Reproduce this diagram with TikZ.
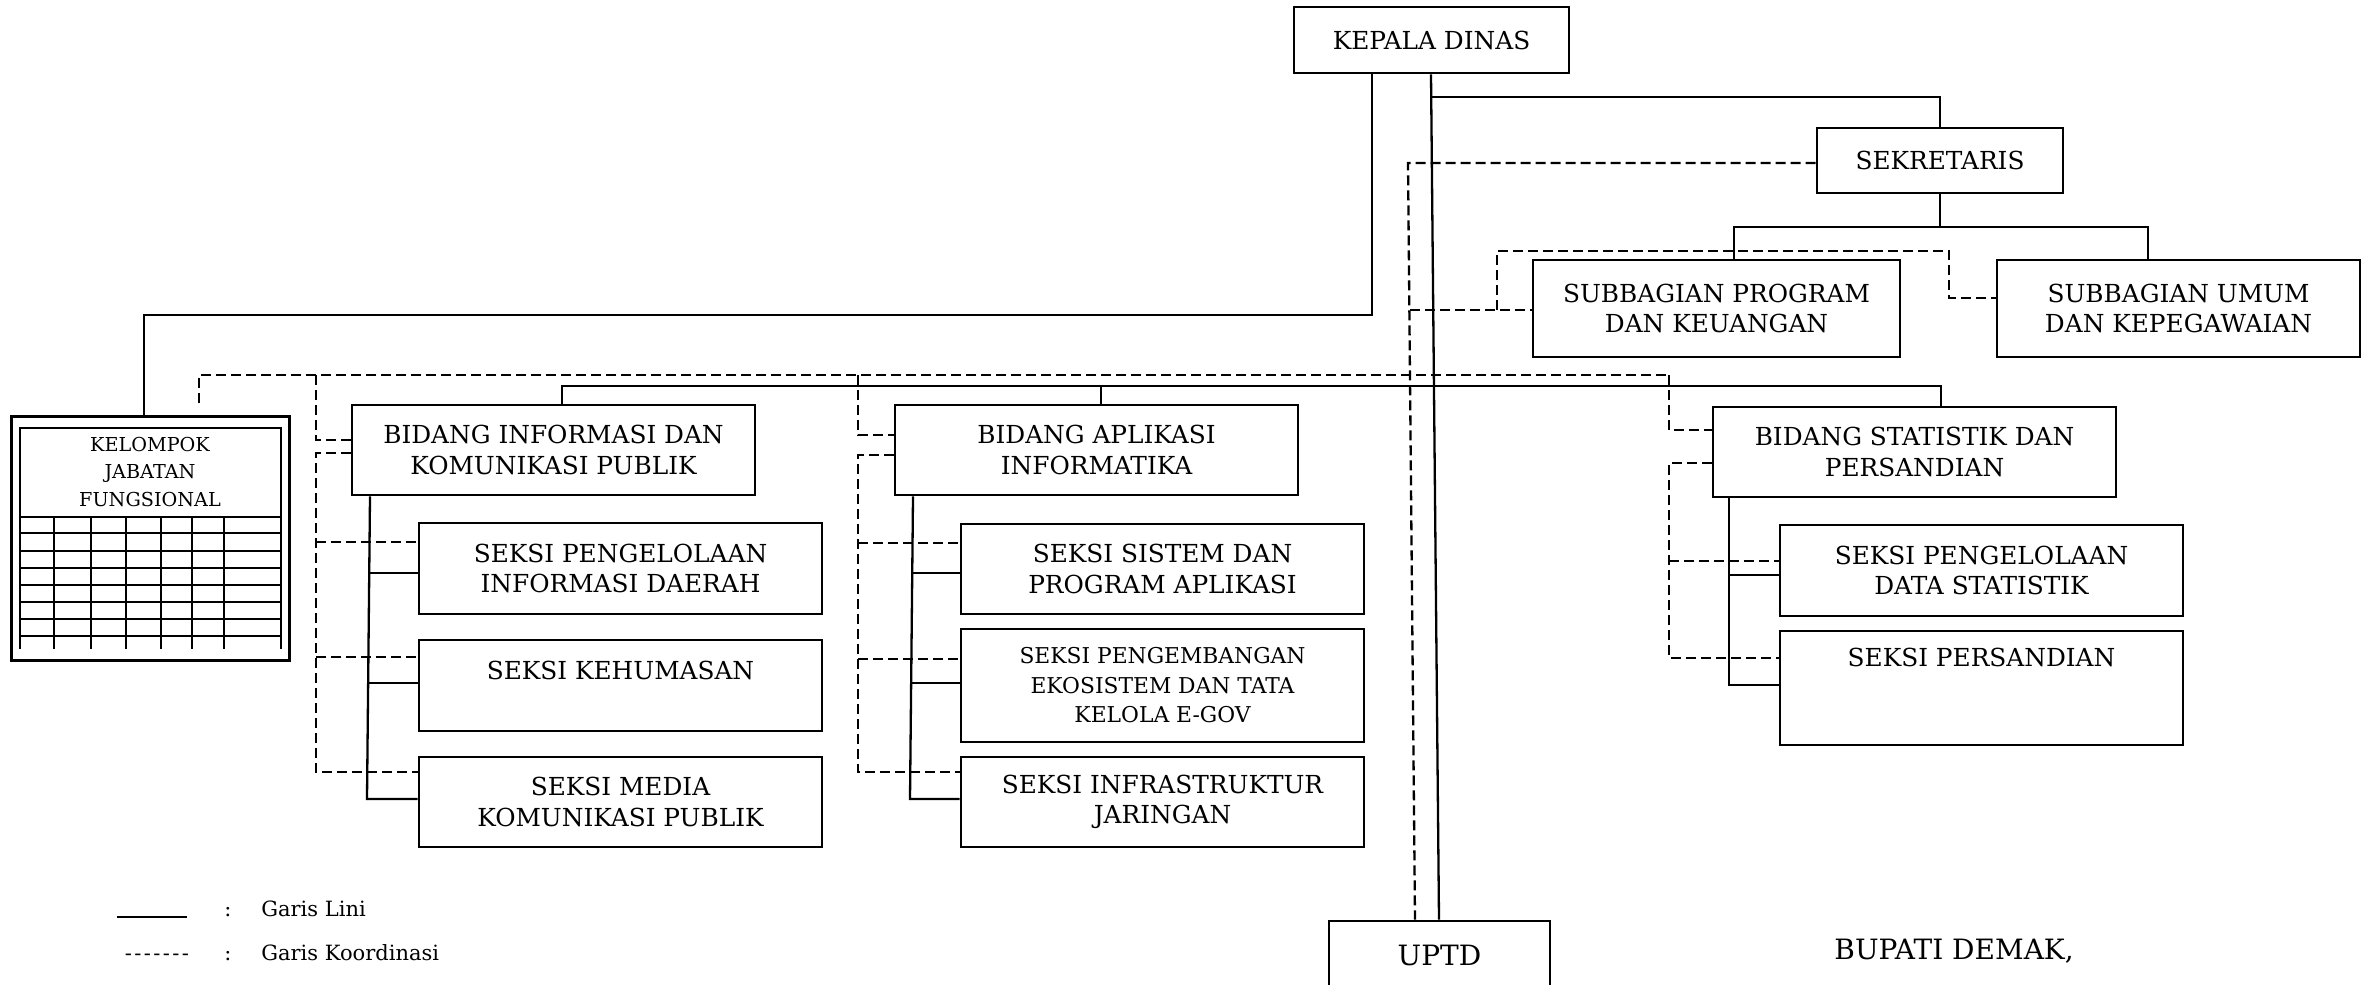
\documentclass[tikz,border=0pt]{standalone}
\usepackage{fontspec}
\setmainfont{DejaVu Serif}
\tikzset{
  box/.style={draw, line width=1.35pt, inner sep=0pt, align=center, font=\fontsize{12.4}{15.35}\selectfont},
  lini/.style={line width=1.15pt},
  koord/.style={line width=1.15pt, dash pattern=on 5pt off 2.5pt},
  grid/.style={line width=1.1pt},
  leg/.style={inner sep=0pt, font=\fontsize{10.5}{12}\selectfont},
  big/.style={inner sep=0pt, font=\fontsize{14}{17}\selectfont},
}
\newcommand\ubox[6][]{\node[box,minimum width={(#4-#2)*0.5pt},minimum height={(#5-#3)*0.5pt},#1] (#6) at ({(#2+#4)/2},{(#3+#5)/2})}
\begin{document}
\begin{tikzpicture}[x=0.5pt,y=-0.5pt]
\useasboundingbox (0,0) rectangle (2372,985);
% boxes
\ubox{1294}{7}{1569}{73}{kd}{KEPALA DINAS};
\ubox{1817}{128}{2063}{193}{sek}{SEKRETARIS};
\ubox{1533}{260}{1900}{357}{sprog}{SUBBAGIAN PROGRAM\\DAN KEUANGAN};
\ubox{1997}{260}{2360}{357}{sumum}{SUBBAGIAN UMUM\\DAN KEPEGAWAIAN};
\ubox{352}{405}{755}{495}{bidA}{BIDANG INFORMASI DAN\\KOMUNIKASI PUBLIK};
\ubox{419}{523}{822}{614}{sA1}{SEKSI PENGELOLAAN\\INFORMASI DAERAH};
\ubox{419}{640}{822}{731}{sA2}{SEKSI KEHUMASAN\\\mbox{}};
\ubox{419}{757}{822}{847}{sA3}{SEKSI MEDIA\\KOMUNIKASI PUBLIK};
\ubox{895}{405}{1298}{495}{bidB}{BIDANG APLIKASI\\INFORMATIKA};
\ubox{961}{524}{1364}{614}{sB1}{SEKSI SISTEM DAN\\PROGRAM APLIKASI};
\ubox[font=\fontsize{10.9}{14.75}\selectfont]{961}{629}{1364}{742}{sB2}{SEKSI PENGEMBANGAN\\EKOSISTEM DAN TATA\\KELOLA E-GOV};
\ubox{961}{757}{1364}{847}{sB3}{SEKSI INFRASTRUKTUR\\JARINGAN};
\ubox{1713}{407}{2116}{497}{bidC}{BIDANG STATISTIK DAN\\PERSANDIAN};
\ubox{1780}{525}{2183}{616}{sC1}{SEKSI PENGELOLAAN\\DATA STATISTIK};
\ubox{1780}{631}{2183}{745}{sC2}{SEKSI PERSANDIAN\\\mbox{}\\\mbox{}};
\ubox[font=\fontsize{14}{17}\selectfont]{1329}{921}{1550}{990}{uptd}{UPTD};
% kelompok jabatan fungsional
\ubox[line width=1.5pt]{11}{416}{289}{660}{kel}{};
\draw[grid] (20,649) -- (20,428) -- (281,428) -- (281,649);
\draw[grid] (20,516.7) -- (281,516.7);
\foreach \y in {533,551,568,585,602,619,636} \draw[grid] (20,\y) -- (281,\y);
\foreach \x in {54,91,126,161,192,224} \draw[grid] (\x,516.7) -- (\x,649);
\node[align=center, inner sep=0pt, font=\fontsize{9.6}{13.75}\selectfont] (kelt) at (150,472) {KELOMPOK\\JABATAN\\FUNGSIONAL};
% helper coordinates
\coordinate (k1) at (1372,315);
\coordinate (k2) at (144,315);
\coordinate (m1) at (1431,0);
\coordinate (m2) at (1439,0);
\coordinate (s1) at (1432,97);
\coordinate (s2) at (1937,227);
\coordinate (s3) at (1734,227);
\coordinate (s4) at (2148,227);
\coordinate (h1) at (562,386);
\coordinate (h2) at (1101,386);
\coordinate (h3) at (1941,386);
% garis lini
\draw[lini] (kd.south -| k1) -- (k1) -- (k2) -- (kel.north -| k2);
\draw[lini] (kd.south -| m1) -- (uptd.north -| m2);
\draw[lini] (s1) -| (sek.north);
\draw[lini] (sek.south) -- (sek.south |- s2);
\draw[lini] (sprog.north -| s3) -- (s3) -- (s4) -- (sumum.north -| s4);
\draw[lini] (bidA.north -| h1) -- (h1) -- (h3) -- (bidC.north -| h3);
\draw[lini] (h2) -- (bidB.north -| h2);
% bidang A
\coordinate (a0) at (370,0); \coordinate (a1) at (368.5,573); \coordinate (a2) at (368,683); \coordinate (a3) at (367,799);
\draw[lini] (bidA.south -| a0) -- (a3) -- (sA3.west |- a3);
\draw[lini] (a1) -- (sA1.west |- a1);
\draw[lini] (a2) -- (sA2.west |- a2);
% bidang B
\coordinate (b0) at (913,0); \coordinate (b1) at (911.5,573); \coordinate (b2) at (911,683); \coordinate (b3) at (910,799);
\draw[lini] (bidB.south -| b0) -- (b3) -- (sB3.west |- b3);
\draw[lini] (b1) -- (sB1.west |- b1);
\draw[lini] (b2) -- (sB2.west |- b2);
% bidang C
\coordinate (c0) at (1729,0); \coordinate (c1) at (1729,575); \coordinate (c2) at (1729,685);
\draw[lini] (bidC.south -| c0) -- (c2) -- (sC2.west |- c2);
\draw[lini] (c1) -- (sC1.west |- c1);
% garis koordinasi
\coordinate (d1) at (1408,163); \coordinate (d2) at (1415,0);
\draw[koord] (sek.west |- d1) -- (d1) -- (uptd.north -| d2);
\coordinate (e0) at (1410,310); \coordinate (e1) at (1497,310); \coordinate (e2) at (1497,251);
\coordinate (e3) at (1949,251); \coordinate (e4) at (1949,298);
\draw[koord] (e0) -- (sprog.west |- e0);
\draw[koord] (e1) -- (e2) -- (e3) -- (e4) -- (sumum.west |- e4);
\coordinate (g0) at (199,403); \coordinate (g1) at (199,375); \coordinate (g2) at (1670,375);
\draw[koord] (g0) -- (g1) -- (g2);
% A
\coordinate (pa0) at (316,375); \coordinate (pa1) at (316,440); \coordinate (pa2) at (316,453);
\coordinate (pa3) at (316,772); \coordinate (pa4) at (316,542); \coordinate (pa5) at (316,657);
\draw[koord] (pa0) -- (pa1) -- (bidA.west |- pa1);
\draw[koord] (bidA.west |- pa2) -- (pa2) -- (pa3) -- (sA3.west |- pa3);
\draw[koord] (pa4) -- (sA1.west |- pa4);
\draw[koord] (pa5) -- (sA2.west |- pa5);
% B
\coordinate (pb0) at (858,375); \coordinate (pb1) at (858,435); \coordinate (pb2) at (858,455);
\coordinate (pb3) at (858,772); \coordinate (pb4) at (858,543); \coordinate (pb5) at (858,659);
\draw[koord] (pb0) -- (pb1) -- (bidB.west |- pb1);
\draw[koord] (bidB.west |- pb2) -- (pb2) -- (pb3) -- (sB3.west |- pb3);
\draw[koord] (pb4) -- (sB1.west |- pb4);
\draw[koord] (pb5) -- (sB2.west |- pb5);
% C
\coordinate (pc0) at (1669,375); \coordinate (pc1) at (1669,430); \coordinate (pc2) at (1669,463);
\coordinate (pc3) at (1669,658); \coordinate (pc4) at (1669,561);
\draw[koord] (pc0) -- (pc1) -- (bidC.west |- pc1);
\draw[koord] (bidC.west |- pc2) -- (pc2) -- (pc3) -- (sC2.west |- pc3);
\draw[koord] (pc4) -- (sC1.west |- pc4);
% legend
\coordinate (lg1) at (117,917); \coordinate (lg2) at (187,917);
\draw[line width=1pt] (lg1) -- (lg2);
\node[leg, anchor=base] (col1) at (228,916) {:};
\node[leg, anchor=base west] (t1) at (261,916) {Garis Lini};
\node[leg, anchor=base] (dsh) at (157,960) {-\kern1.2pt-\kern1.2pt-\kern1.2pt-\kern1.2pt-\kern1.2pt-\kern1.2pt-};
\node[leg, anchor=base] (col2) at (228,960) {:};
\node[leg, anchor=base west] (t2) at (261,960) {Garis Koordinasi};
\node[big, anchor=base west] (bup) at (1834,959) {BUPATI DEMAK,};
\end{tikzpicture}
\end{document}
